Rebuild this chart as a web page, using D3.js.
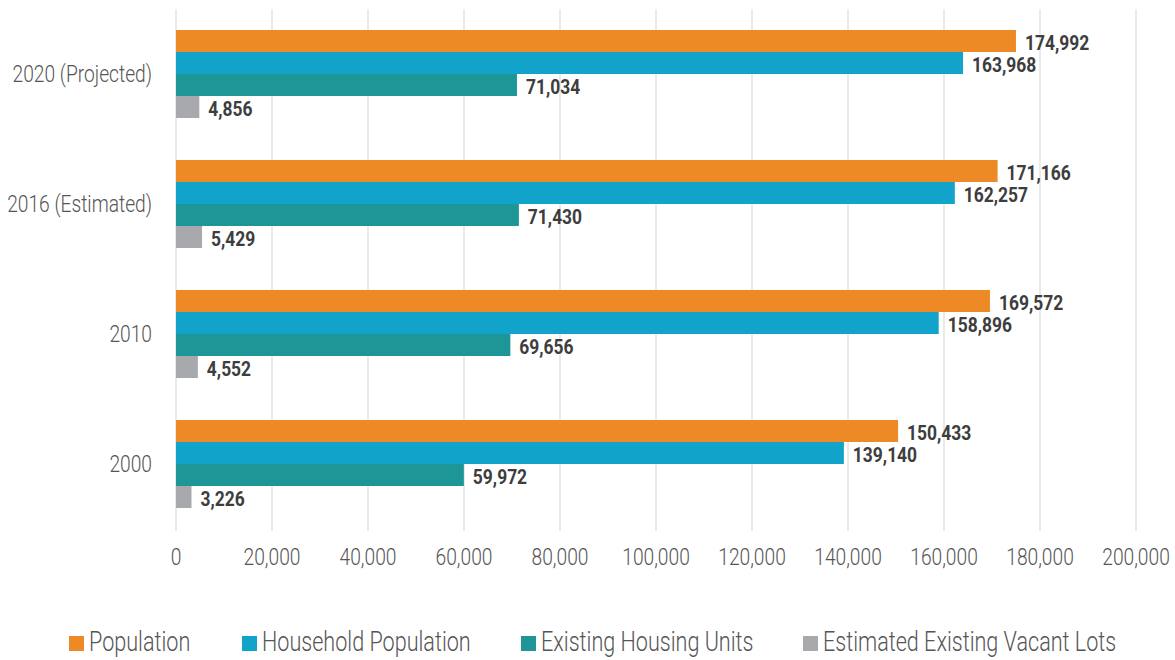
<!DOCTYPE html>
<html lang="en">
<head>
    <meta charset="utf-8">
    <script src="https://cdn.jsdelivr.net/npm/d3@7"></script>
    <style>
        body { margin: 0; background: #fff; }
        text { font-family: "Roboto", sans-serif; }
        .grid line { stroke: #e3e3e3; stroke-width: 1.5; }
        .tick-label { fill: #555; font-size: 24px; font-weight: 300; }
        .cat-label { fill: #555; font-size: 24px; font-weight: 300; }
        .val { fill: #3d3d3d; font-size: 21px; font-weight: bold; }
        .legend text { fill: #555; font-size: 27px; font-weight: 300; }
    </style>
</head>
<body>
<script>

    // data
    let years = ['2020 (Projected)', '2016 (Estimated)', '2010', '2000'];
    let series = ['Population', 'Household Population', 'Existing Housing Units', 'Estimated Existing Vacant Lots'];
    let colors = ['#ee8a25', '#11a3c9', '#1e9698', '#a8a9ad'];
    let population = [174992, 171166, 169572, 150433];
    let householdPop = [163968, 162257, 158896, 139140];
    let housingUnits = [71034, 71430, 69656, 59972];
    let vacantLots = [4856, 5429, 4552, 3226];
    let xTicks = [0, 20000, 40000, 60000, 80000, 100000, 120000, 140000, 160000, 180000, 200000];

    let values = [population, householdPop, housingUnits, vacantLots];

    // the original uses a condensed face, squeeze the text horizontally
    function place(px, py, sx) {
        return 'translate(' + px + ',' + py + ') scale(' + sx + ',1)';
    }

    let svg = d3.select('body').append('svg')
        .attr('width', 1175).attr('height', 660);

    let x = d3.scaleLinear().domain([0, 200000]).range([176, 1136]);
    let y = d3.scaleBand().domain(years).range([9, 529])
        .paddingInner(0.323).paddingOuter(0.1615);
    let ySub = d3.scaleBand().domain(series).range([0, y.bandwidth()]);

    // gridlines
    svg.append('g').attr('class', 'grid').selectAll('line')
        .data(xTicks).enter().append('line')
        .attr('x1', d => x(d)).attr('x2', d => x(d))
        .attr('y1', 9).attr('y2', 531);

    // tick labels
    svg.append('g').selectAll('text')
        .data(xTicks).enter().append('text')
        .attr('class', 'tick-label')
        .attr('transform', d => place(x(d), 565, 0.8))
        .attr('text-anchor', 'middle')
        .text(d => d3.format(',')(d));

    // category labels
    svg.append('g').selectAll('text')
        .data(years).enter().append('text')
        .attr('class', 'cat-label')
        .attr('transform', d => place(152, y(d) + y.bandwidth() / 2 + 8, 0.8))
        .attr('text-anchor', 'end')
        .text(d => d);

    let bars = [];
    years.forEach(function (yr, i) {
        series.forEach(function (s, j) {
            bars.push({year: yr, series: s, value: values[j][i], color: colors[j]});
        });
    });

    svg.append('g').selectAll('rect')
        .data(bars).enter().append('rect')
        .attr('x', x(0))
        .attr('y', d => y(d.year) + ySub(d.series))
        .attr('width', d => x(d.value) - x(0))
        .attr('height', ySub.bandwidth())
        .attr('fill', d => d.color);

    svg.append('g').selectAll('text')
        .data(bars).enter().append('text')
        .attr('class', 'val')
        .attr('transform', d => place(x(d.value) + 9, y(d.year) + ySub(d.series) + ySub.bandwidth() / 2 + 9, 0.83))
        .text(d => d3.format(',')(d.value));

    // legend
    let legendX = [69, 242, 521, 803];
    let legend = svg.append('g').attr('class', 'legend').selectAll('g')
        .data(series).enter().append('g')
        .attr('transform', (d, i) => 'translate(' + legendX[i] + ',636)');
    legend.append('rect')
        .attr('width', 15).attr('height', 15)
        .attr('fill', (d, i) => colors[i]);
    legend.append('text')
        .attr('transform', place(20, 15, 0.8))
        .text(d => d);

</script>
</body>
</html>
